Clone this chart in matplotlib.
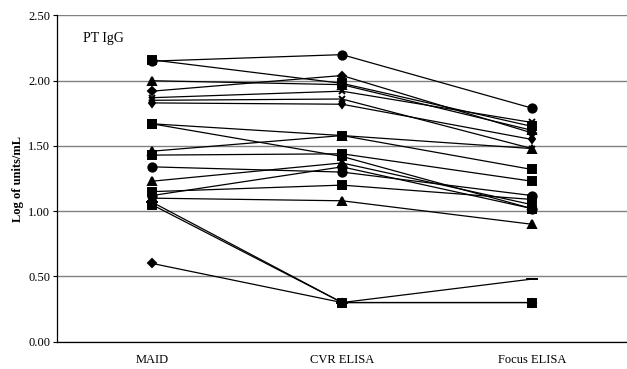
import numpy as np
import matplotlib
matplotlib.use('Agg')
import matplotlib.pyplot as plt

plt.rcParams['font.family'] = ['Liberation Serif', 'DejaVu Serif']

categories = ['MAID', 'CVR ELISA', 'Focus ELISA']

# one row per subject: MAID, CVR ELISA, Focus ELISA (log units/mL)
maid  = [2.15, 2.16, 2.00, 1.92, 1.87, 1.85, 1.83, 1.67, 1.67, 1.46, 1.43, 1.34, 1.23, 1.15, 1.12, 1.10, 1.07, 1.05, 0.60]
cvr   = [2.20, 1.98, 1.97, 2.04, 1.92, 1.86, 1.82, 1.58, 1.42, 1.58, 1.44, 1.30, 1.37, 1.20, 1.34, 1.08, 0.30, 0.30, 0.30]
focus = [1.79, 1.65, 1.62, 1.60, 1.68, 1.48, 1.55, 1.32, 1.02, 1.48, 1.23, 1.12, 1.05, 1.09, 1.02, 0.90, 0.48, 0.30, 0.30]
markers = ['o', 's', '^', 'D', 'x', 'x', 'd', 's', 's', '^', 's', 'o', '^', 's', 'o', '^', '_', 's', 'D']

fig = plt.figure(figsize=(6.27, 3.69), dpi=100)
ax = fig.add_axes([0.0909, 0.074, 0.9091, 0.884])

x = np.arange(len(categories))
for i in range(len(maid)):
    y = [maid[i], cvr[i], focus[i]]
    m = markers[i]
    ms = 6
    if m == 'D' or m == 'd':
        ms = 4.5
    if m == 'x':
        ms = 5
    if m == '_':
        ms = 8
    ax.plot(x, y, color='black', lw=0.9, marker=m, ms=ms, mec='black', mfc='black', mew=1.4, zorder=3)

ax.set_xlim(-0.5, 2.5)
ax.set_ylim(0, 2.5)
ax.set_yticks(np.arange(0, 2.51, 0.5))
ax.set_yticklabels(['%.2f' % v for v in np.arange(0, 2.51, 0.5)], fontsize=9)
ax.set_xticks(x)
ax.set_xticklabels(categories, fontsize=9)
ax.tick_params(axis='x', length=0, pad=9)
ax.tick_params(axis='y', length=3, width=0.8, pad=2, direction='out')
ax.yaxis.grid(True, color='#808080', lw=1.0)
ax.set_axisbelow(True)
for s in ['top', 'right']:
    ax.spines[s].set_visible(False)
ax.spines['left'].set_linewidth(0.9)
ax.spines['bottom'].set_linewidth(0.9)

ax.set_ylabel('Log of units/mL', fontsize=9, fontweight='bold', labelpad=3)
ax.text(0.045, 0.92, 'PT IgG', transform=ax.transAxes, fontsize=10)

plt.savefig('out.png', dpi=100)
